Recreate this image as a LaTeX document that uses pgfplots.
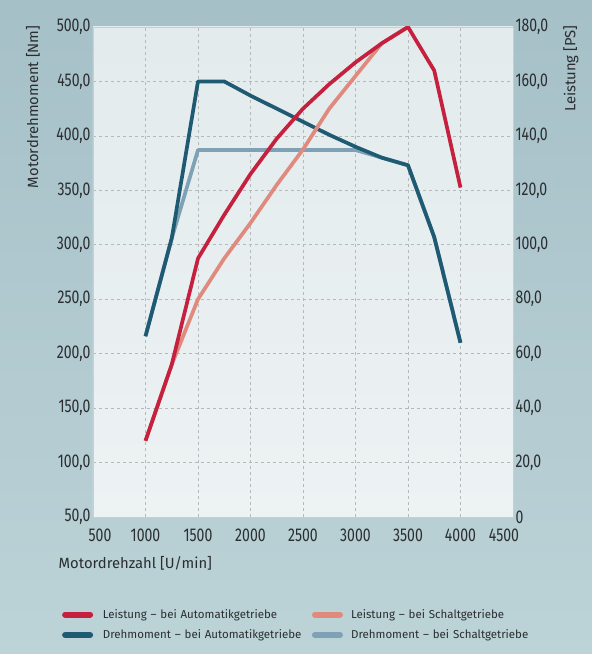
\documentclass[border=0pt]{standalone}
\usepackage{fontspec}
\setmainfont{Fira Sans}
\newfontfamily\tickfont{Fira Sans}[FakeStretch=0.76]
\usepackage{pgfplots}
\pgfplotsset{compat=1.18}
\definecolor{bgtop}{HTML}{A6C0C8}
\definecolor{bgbot}{HTML}{BCD3D7}
\definecolor{pltop}{HTML}{E3EBED}
\definecolor{plbot}{HTML}{EDF2F3}
\definecolor{cred}{HTML}{C5203E}
\definecolor{csalmon}{HTML}{E08A7E}
\definecolor{cdblue}{HTML}{1F5A73}
\definecolor{clblue}{HTML}{7FA1B5}
\definecolor{ctext}{HTML}{2A2E30}
\definecolor{cgrid}{HTML}{B4B9BC}
\begin{document}
\begin{tikzpicture}[x=1pt,y=1pt]
\shade[top color=bgtop, bottom color=bgbot] (-93,-137) rectangle (499,517);
\pgfplotsset{
  common/.style={
    width=420pt, height=490pt, scale only axis,
    at={(0,0)}, anchor=south west,
    xmin=500, xmax=4500,
    major tick length=0pt,
    tick label style={font=\tickfont\fontsize{18.5}{20}\selectfont, text=ctext},
    /pgf/number format/assume math mode=true,
    label style={font=\fontsize{14.8}{16}\selectfont, text=ctext},
  }
}
\begin{axis}[common,
  ymin=50, ymax=500,
  xtick={500,1000,...,4500},
  xticklabels={\hspace*{14pt}500,1000,1500,2000,2500,3000,3500,4000,4500\hspace*{18pt}},
  ytick={50,100,...,500},
  xticklabel style={yshift=-8pt},
  yticklabel style={/pgf/number format/.cd, fixed, fixed zerofill, precision=1, use comma, /tikz/.cd, xshift=1pt},
  grid=major,
  major grid style={dashed, cgrid, line width=0.6pt, dash pattern=on 3pt off 3pt},
  axis line style={draw=cgrid!70, line width=0.8pt},
  axis background/.style={shade, top color=pltop, bottom color=plbot},
  xlabel={Motordrehzahl [U/min]},
  xlabel style={at={(axis description cs:-0.09,-0.094)}, anchor=west},
  ylabel={Motordrehmoment [Nm]},
  ylabel style={at={(axis description cs:-0.143,1.01)}, anchor=east},
  line join=round,
]
\addplot[clblue, line width=3.7pt] coordinates {
 (1000,216) (1250,306) (1500,387) (1750,387) (2000,387) (2250,387) (2500,387) (2750,387) (3000,387) (3250,380) (3500,373) (3750,307) (4000,210)};
\addplot[cdblue, line width=3.7pt] coordinates {
 (1000,216) (1250,306) (1500,450) (1750,450) (2000,437) (2250,425) (2500,413) (2750,401) (3000,390) (3250,380) (3500,373) (3750,307) (4000,210)};
\end{axis}
\begin{axis}[common,
  ymin=0, ymax=180,
  axis y line*=right, axis x line=none,
  ytick={0,20,...,180},
  yticklabels={0,{20,0},{40,0},{60,0},{80,0},{100,0},{120,0},{140,0},{160,0},{180,0}},
  yticklabel style={xshift=-1pt},
  y axis line style={draw=none},
  ylabel={Leistung [PS]},
  ylabel style={at={(axis description cs:1.138,1.01)}, anchor=east},
  line join=round,
  legend columns=2,
  legend cell align=left,
  legend style={at={(axis description cs:-0.074,-0.188)}, anchor=north west, draw=none, fill=none,
    font=\fontsize{11.5}{13}\selectfont, text=ctext, inner sep=0pt, row sep=10pt,
    column sep=0pt, nodes={inner sep=0pt, text width=209pt, align=left}},
  legend image code/.code={\draw[#1, line width=6pt, line cap=round] (3pt,0pt) -- (28pt,0pt); \path (39pt,0pt);},
]
\addplot[csalmon, line width=3.7pt, forget plot] coordinates {
 (1000,28) (1250,56) (1500,80) (1750,95) (2000,108) (2250,122) (2500,135) (2750,150) (3000,162) (3250,174) (3500,180)};
\addplot[cred, line width=3.7pt] coordinates {
 (1000,28) (1250,56) (1500,95) (1750,111) (2000,126) (2250,139) (2500,150) (2750,159) (3000,167) (3250,174) (3500,180) (3750,164) (4000,121)};
\addlegendentry{Leistung – bei Automatikgetriebe}
\addlegendimage{csalmon}
\addlegendentry{Leistung – bei Schaltgetriebe}
\addlegendimage{cdblue}
\addlegendentry{Drehmoment – bei Automatikgetriebe}
\addlegendimage{clblue}
\addlegendentry{Drehmoment – bei Schaltgetriebe}
\end{axis}
\end{tikzpicture}
\end{document}
